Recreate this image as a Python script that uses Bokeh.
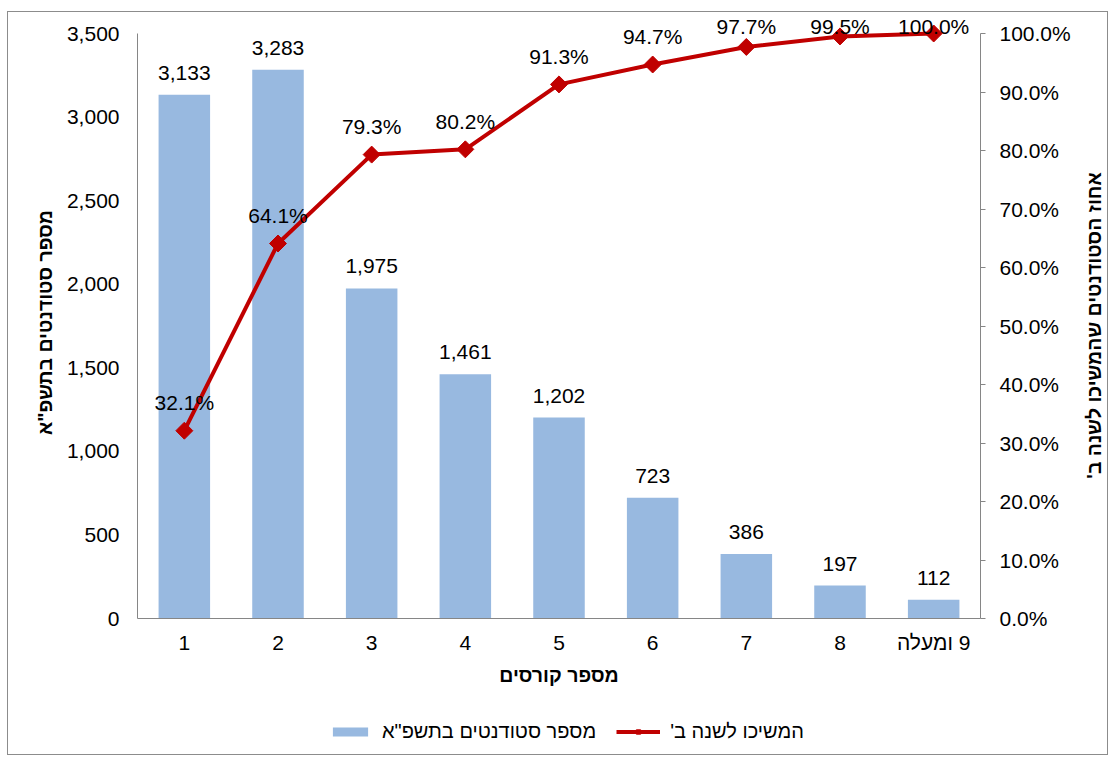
import math
from bokeh.plotting import figure
from bokeh.models import (Range1d, LinearAxis, FixedTicker, NumeralTickFormatter,
                          PrintfTickFormatter, ColumnDataSource, Legend, LegendItem)
from bokeh.core.properties import value
from bokeh.embed import file_html
from bokeh.resources import INLINE

RLM = "\u200f"

# ---- data ----
categories = ["1", "2", "3", "4", "5", "6", "7", "8", RLM + "9 ומעלה"]
students = [3133, 3283, 1975, 1461, 1202, 723, 386, 197, 112]
continued_pct = [32.1, 64.1, 79.3, 80.2, 91.3, 94.7, 97.7, 99.5, 100.0]
left_ticks = [0, 500, 1000, 1500, 2000, 2500, 3000, 3500]
right_ticks = [0, 10, 20, 30, 40, 50, 60, 70, 80, 90, 100]

bar_name = 'מספר סטודנטים בתשפ"א'
line_name = "המשיכו לשנה ב'" + RLM
x_title = "מספר קורסים"
y_title = 'מספר סטודנטים בתשפ"א'
y2_title = "אחוז הסטודנטים שהמשיכו לשנה ב'" + RLM

# ---- layout (page pixels) ----
W, H = 1101, 744
FONT = "Liberation Sans"
cx0, cy0 = 8, 12                       # content box origin on the page
plot_l, plot_r = 137, 980              # data area left/right
zero_px, top_px = 618, 33              # y of 0 and of the axis maximum
n = len(categories)
left_max, right_max = 3500, 100
ppx = (plot_r - plot_l) / n
ppy = (zero_px - top_px)

x_start = -(plot_l - cx0) / ppx
x_end = n + (cx0 + W - plot_r) / ppx
y_start = -left_max * (cy0 + H - zero_px) / ppy
y_end = left_max * (zero_px - cy0) / ppy
y2_start = -right_max * (cy0 + H - zero_px) / ppy
y2_end = right_max * (zero_px - cy0) / ppy
px_per_pct = ppy / right_max

p = figure(width=W, height=H, x_range=Range1d(x_start, x_end), y_range=Range1d(y_start, y_end),
           output_backend="svg", toolbar_location=None,
           min_border_left=0, min_border_right=0, min_border_top=0, min_border_bottom=0)
p.styles = {"border": "1px solid #8c8c8c", "margin-left": "7px", "margin-top": "11px"}
p.outline_line_color = None
p.xgrid.visible = False
p.ygrid.visible = False
p.background_fill_color = "white"
p.border_fill_color = "white"
p.extra_y_ranges = {"pct": Range1d(y2_start, y2_end)}

xs = [i + 0.5 for i in range(n)]
src = ColumnDataSource(dict(
    x=xs, students=students, pct=continued_pct,
    slab=[f"{v:,}" for v in students],
    plab=[f"{v:.1f}%" for v in continued_pct],
    ply=[min(v + 28 / px_per_pct, (zero_px - 26) / px_per_pct) for v in continued_pct],
))

bars = p.vbar(x="x", top="students", width=0.55, source=src, fill_color="#98B9E0", line_color=None)
p.text(x="x", y="students", text="slab", source=src, y_offset=-22, text_align="center",
       text_baseline="middle", text_font=value(FONT), text_font_size="21px", text_color="#000000")

line = p.line(x="x", y="pct", source=src, y_range_name="pct", line_color="#C00000", line_width=4)
marks = p.scatter(x="x", y="pct", source=src, y_range_name="pct", marker="square", angle=math.pi / 4,
                  size=12, fill_color="#C00000", line_color="#C00000")
p.text(x="x", y="ply", text="plab", source=src, y_range_name="pct", text_align="center",
       text_baseline="middle", text_font=value(FONT), text_font_size="21px", text_color="#000000")

# axis titles (vertical, reading bottom-to-top)
title_src = ColumnDataSource(dict(
    x=[(44 - plot_l) / ppx, n + (1093 - plot_r) / ppx],
    y=[left_max * (zero_px - 322) / ppy, left_max * (zero_px - 325) / ppy],
    t=[y_title, y2_title],
))
p.text(x="x", y="y", text="t", source=title_src, angle=math.pi / 2, text_align="center",
       text_baseline="middle", text_font=value(FONT), text_font_style="bold",
       text_font_size="19.5px", text_color="#000000")

# left axis pinned at the data area's left edge
ax = p.yaxis[0]
ax.fixed_location = 0
ax.ticker = FixedTicker(ticks=left_ticks)
ax.formatter = NumeralTickFormatter(format="0,0")
ax.bounds = (0, left_max)
ax.axis_line_color = "#868686"
ax.major_tick_out = 0
ax.major_tick_in = 0
ax.minor_tick_line_color = None
ax.major_label_standoff = 18
ax.major_label_text_font = FONT
ax.major_label_text_font_size = "21px"
ax.major_label_text_color = "#000000"

# right axis pinned at the data area's right edge
ax2 = LinearAxis(y_range_name="pct", ticker=FixedTicker(ticks=right_ticks),
                 formatter=PrintfTickFormatter(format="%.1f%%"), bounds=(0, right_max))
ax2.fixed_location = n
ax2.axis_line_color = "#868686"
ax2.major_tick_line_color = "#868686"
ax2.major_tick_out = 5
ax2.major_tick_in = 0
ax2.minor_tick_line_color = None
ax2.major_label_standoff = 14
ax2.major_label_text_font = FONT
ax2.major_label_text_font_size = "21px"
ax2.major_label_text_color = "#000000"
p.add_layout(ax2, "right")

# bottom axis pinned at zero
bx = p.xaxis[0]
bx.fixed_location = 0
bx.ticker = FixedTicker(ticks=xs)
bx.major_label_overrides = {x: c for x, c in zip(xs, categories)}
bx.bounds = (0, n)
bx.axis_line_color = "#868686"
bx.major_tick_out = 0
bx.major_tick_in = 0
bx.minor_tick_line_color = None
bx.major_label_standoff = 12
bx.major_label_text_font = FONT
bx.major_label_text_font_size = "21px"
bx.major_label_text_color = "#000000"
bx.axis_label = x_title
bx.axis_label_text_font = FONT
bx.axis_label_text_font_style = "bold"
bx.axis_label_text_font_size = "19.5px"
bx.axis_label_text_color = "#000000"
bx.axis_label_standoff = 7

legend = Legend(items=[LegendItem(label=bar_name, renderers=[bars]),
                       LegendItem(label=line_name, renderers=[line, marks])],
                orientation="horizontal", location=(320, 13), glyph_width=44, glyph_height=11,
                label_standoff=10, spacing=20, padding=0, margin=0, border_line_color=None,
                background_fill_alpha=0, label_text_font=FONT, label_text_font_size="20px",
                label_text_color="#000000")
p.add_layout(legend, "center")

open("out.html", "w").write(file_html(p, INLINE))
